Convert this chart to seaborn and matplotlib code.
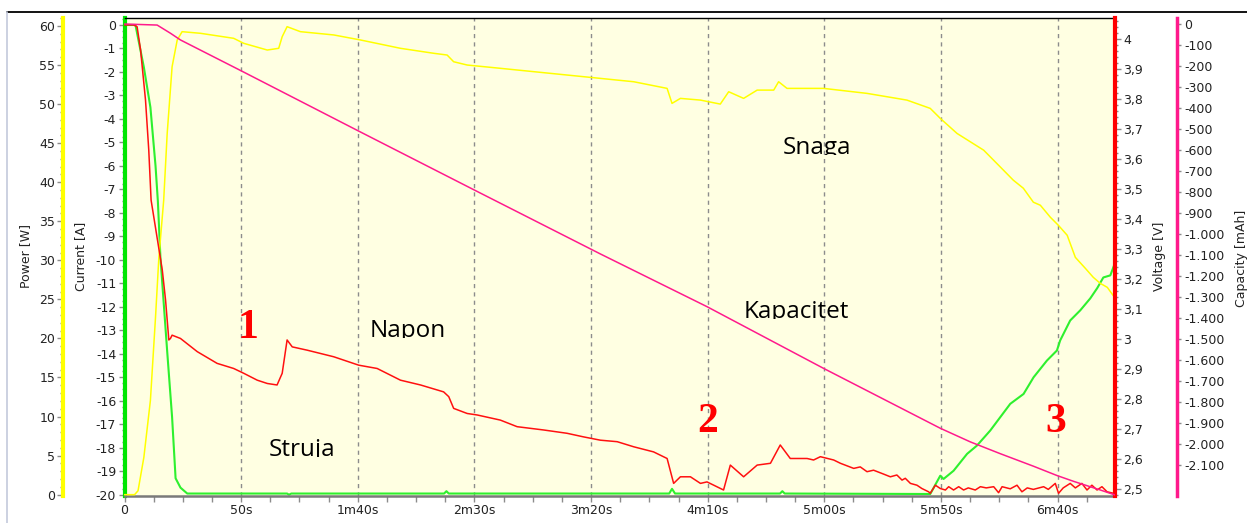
import matplotlib
matplotlib.use("Agg")
import matplotlib.pyplot as plt
import seaborn as sns
from matplotlib.ticker import FixedLocator, MultipleLocator, FuncFormatter
from matplotlib.transforms import Bbox, TransformedBbox
from matplotlib.lines import Line2D

# ---- discharge log (time in seconds) ----
current_t = [0, 4.7, 8.3, 11.1, 13.3, 14.3, 15.4, 18.3, 20.4, 21.9, 24.0, 26.9,
             69.7, 70.5, 71.5, 137, 138, 139, 233.5, 234.7, 236, 281, 282, 283,
             345.4, 349.7, 351.1, 355.4, 361.2, 365.4, 371.1, 375.4, 379.7, 385.4,
             389.7, 395.4, 399.7, 401.1, 405.4, 409.7, 414.0, 417.0, 419.6, 422.6, 424.7]
current_a = [0, 0, -1.8, -3.5, -6.0, -7.5, -9.9, -13.9, -16.7, -19.3, -19.7, -19.95,
             -19.95, -20.0, -19.95, -19.95, -19.85, -19.95, -19.95, -19.75, -19.95, -19.95, -19.85, -19.95,
             -19.97, -19.19, -19.33, -18.98, -18.26, -17.91, -17.27, -16.70, -16.13, -15.71,
             -15.00, -14.29, -13.86, -13.43, -12.58, -12.15, -11.64, -11.2, -10.75, -10.66, -10.1]

voltage_t = [0, 3.9, 5.4, 6.9, 9.0, 10.4, 11.4, 16.2, 17.6, 19.0,
             19.7, 20.4, 24.0, 31.2, 39.7, 46.8, 51.1, 56.9, 61.2, 65.4,
             67.6, 69.7, 71.9, 78.3, 89.7, 100.4, 108.3, 118.3, 126.9, 136.8,
             139.0, 141.1, 146.9, 151.2, 161.1, 168.3, 179.7, 189.7, 196.8, 204.0,
             211.2, 218.3, 226.8, 232.6, 235.4, 238.3, 242.6, 246.9, 249.7, 256.8,
             259.7, 265.4, 271.2, 276.9, 281.1, 285.4, 292.6, 295.4, 298.3, 304.0,
             306.9, 312.6, 315.4, 318.3, 321.1, 325.4, 328.3, 331.1, 333.3, 334.7,
             336.9, 339.7, 341.8, 344.7,
             345.4, 347.6, 349.7, 351.9, 353.3, 355.4, 357.6, 359.7, 361.7, 364.7,
             366.9, 369.4, 372.6, 374.7, 376.2, 379.7, 382.6, 384.7, 387.0, 389.6,
             394.0, 396.0, 399.0, 400.4, 402.4, 405.4, 407.6, 410.4, 412.6, 414.7,
             416.9, 419.0, 421.2, 424.0]
voltage_v = [4.048, 4.048, 4.042, 3.964, 3.798, 3.631, 3.464, 3.231, 3.131, 2.998,
             3.003, 3.014, 3.003, 2.959, 2.920, 2.903, 2.887, 2.864, 2.853, 2.848,
             2.887, 2.998, 2.975, 2.964, 2.942, 2.914, 2.903, 2.864, 2.848, 2.825,
             2.809, 2.770, 2.753, 2.748, 2.731, 2.709, 2.698, 2.687, 2.675, 2.664,
             2.659, 2.642, 2.625, 2.603, 2.520, 2.542, 2.542, 2.520, 2.525, 2.498,
             2.581, 2.542, 2.581, 2.587, 2.648, 2.603, 2.603, 2.598, 2.609, 2.598,
             2.587, 2.570, 2.575, 2.559, 2.564, 2.551, 2.542, 2.548, 2.531, 2.537,
             2.520, 2.514, 2.503, 2.492,
             2.487, 2.514, 2.503, 2.498, 2.509, 2.498, 2.509, 2.498, 2.505, 2.498,
             2.509, 2.505, 2.509, 2.489, 2.509, 2.502, 2.514, 2.492, 2.505, 2.500,
             2.509, 2.500, 2.520, 2.487, 2.505, 2.520, 2.505, 2.520, 2.498, 2.514,
             2.498, 2.509, 2.492, 2.487]

power_t = [0, 4.3, 5.8, 8.3, 11.1, 13.3, 14.7, 16.8, 18.3, 20.4,
           22.6, 24.7, 32.6, 46.8, 51.1, 61.2, 66.1, 67.6, 69.7, 75.4,
           89.7, 101.1, 118.3, 132.6, 138.3, 141.1, 146.9, 161.1, 204.0, 218.3,
           232.6, 234.7, 238.3, 246.9, 255.4, 259.0, 265.4, 271.2, 278.3, 280.4,
           284.0, 299.7, 318.3, 335.4, 345.4, 349.7, 356.9, 368.3, 375.4, 381.0,
           385.3, 389.6, 392.6, 396.9, 400.3, 404.1, 407.6, 411.9, 415.3, 418.3,
           421.3, 424.7]
power_w = [0, 0, 0.5, 4.78, 12.05, 22.73, 30.22, 37.69, 46.24, 54.78,
           58.21, 59.27, 59.06, 58.42, 57.78, 56.92, 57.14, 58.63, 59.91, 59.27,
           58.85, 58.21, 57.14, 56.50, 56.28, 55.42, 55.0, 54.58, 53.29, 52.86,
           52.01, 50.09, 50.73, 50.51, 50.0, 51.58, 50.73, 51.79, 51.79, 52.86,
           52.01, 52.01, 51.37, 50.51, 49.45, 48.17, 46.24, 44.10, 41.96, 40.26,
           39.23, 37.44, 37.05, 35.51, 34.49, 33.21, 30.38, 28.97, 27.82, 27.05,
           26.54, 25.13]

capacity_t = [0, 14.0, 19.7, 24.0, 51.1, 100.4, 150.4, 204.0, 249.7, 299.7,
              349.7, 362.6, 375.4, 389.7, 399.7, 406.9, 418.3, 424.7]
capacity_mah = [0, -5, -44, -76, -229, -510, -793, -1095, -1346, -1640,
                -1925, -1990, -2046, -2106, -2150, -2178, -2219, -2243]

x_ticks = [0, 50, 100, 150, 200, 250, 300, 350, 400]
x_tick_labels = ["0", "50s", "1m40s", "2m30s", "3m20s", "4m10s", "5m00s", "5m50s", "6m40s"]

W, H = 1247, 523
sns.set_theme(style="white")
plt.rcParams["font.family"] = ["DejaVu Sans"]
plt.rcParams["axes.unicode_minus"] = False

fig = plt.figure(figsize=(W / 100, H / 100), dpi=100)
fig.patch.set_facecolor("white")


def fx(px):
    return px / W


def fy(py):
    return 1 - py / H


PT = 0.72  # points per pixel at 100 dpi
L, R, T, B = 124.5, 1115, 18, 496
ax = fig.add_axes([fx(L), fy(B), fx(R) - fx(L), fy(T) - fy(B)])
ax.set_facecolor("#FFFFE2")
ax_p = ax.twinx()
ax_v = ax.twinx()
ax_c = ax.twinx()

GREEN, YELLOW, RED, PINK = "#2EF02E", "#FFFF00", "#FF1010", "#FF1A8C"
sns.lineplot(x=current_t, y=current_a, ax=ax, color=GREEN, linewidth=1.5, estimator=None, sort=False)
sns.lineplot(x=voltage_t, y=voltage_v, ax=ax_v, color=RED, linewidth=1.1, estimator=None, sort=False)
sns.lineplot(x=power_t, y=power_w, ax=ax_p, color=YELLOW, linewidth=1.1, estimator=None, sort=False)
sns.lineplot(x=capacity_t, y=capacity_mah, ax=ax_c, color=PINK, linewidth=1.1, estimator=None, sort=False)

for a in (ax, ax_p, ax_v, ax_c):
    a.set_xlim(0, 424.6)
    a.set_xlabel("")
    a.set_ylabel("")

ax.set_ylim(-20.055, 0.298)
ax_p.set_ylim(-0.17, 61.02)
ax_v.set_ylim(2.478, 4.071)
ax_c.set_ylim(-2247.6, 28.6)

# x axis
ax.xaxis.set_major_locator(FixedLocator(x_ticks))
ax.set_xticklabels(x_tick_labels)
ax.xaxis.set_minor_locator(MultipleLocator(12.5))
ax.grid(axis="x", which="major", color="#8c8c8c", linestyle=(0, (3, 3)), linewidth=1)

tick_kw = dict(direction="out", color="#8c8c8c", labelsize=9, labelcolor="#222222", pad=2)
ax.tick_params(axis="x", which="major", length=4, width=1, bottom=True, **tick_kw)
ax.tick_params(axis="x", which="minor", length=4, width=1, bottom=True, color="#8c8c8c")

# current axis (left)
ax.yaxis.tick_left()
ax.yaxis.set_major_locator(MultipleLocator(1))
ax.yaxis.set_minor_locator(MultipleLocator(0.25))
ax.yaxis.set_major_formatter(FuncFormatter(lambda v, p: f"{int(round(v))}"))
ax.tick_params(axis="y", which="major", length=4, width=1, left=True, **tick_kw)
ax.tick_params(axis="y", which="minor", length=2.5, width=1, left=True, color="#8c8c8c")

# power axis (outer left)
ax_p.yaxis.tick_left()
ax_p.yaxis.set_label_position("left")
ax_p.spines["left"].set_position(("outward", 61 * PT))
ax_p.yaxis.set_major_locator(MultipleLocator(5))
ax_p.yaxis.set_minor_locator(MultipleLocator(1))
ax_p.yaxis.set_major_formatter(FuncFormatter(lambda v, p: f"{int(round(v))}"))
ax_p.tick_params(axis="y", which="major", length=4, width=1, left=True, right=False, **tick_kw)
ax_p.tick_params(axis="y", which="minor", length=2.5, width=1, left=True, right=False, color="#8c8c8c")


def volt_fmt(v, p):
    s = f"{v:.1f}"
    if s.endswith(".0"):
        s = s[:-2]
    return s.replace(".", ",")


ax_v.yaxis.set_major_locator(MultipleLocator(0.1))
ax_v.yaxis.set_minor_locator(MultipleLocator(0.02))
ax_v.yaxis.set_major_formatter(FuncFormatter(volt_fmt))
ax_v.tick_params(axis="y", which="major", length=4, width=1, right=True, **tick_kw)
ax_v.tick_params(axis="y", which="minor", length=2.5, width=1, right=True, color="#8c8c8c")

ax_c.spines["right"].set_position(("outward", 62 * PT))
ax_c.yaxis.set_major_locator(FixedLocator(list(range(0, -2101, -100))))
ax_c.yaxis.set_major_formatter(FuncFormatter(lambda v, p: f"{int(round(v)):,}".replace(",", ".")))
ax_c.tick_params(axis="y", which="major", length=3, width=1, right=True, **tick_kw)

# spines
for a in (ax_p, ax_v, ax_c):
    for s in a.spines.values():
        s.set_visible(False)
ax.spines["right"].set_visible(False)
ax.spines["left"].set_color("#00E600")
ax.spines["left"].set_linewidth(3)
ax.spines["top"].set_color("black")
ax.spines["top"].set_linewidth(1)
ax.spines["bottom"].set_color("#7a7a7a")
ax.spines["bottom"].set_linewidth(1.8)
ax_p.spines["left"].set_visible(True)
ax_p.spines["left"].set_color(YELLOW)
ax_p.spines["left"].set_linewidth(3)
ax_v.spines["right"].set_visible(True)
ax_v.spines["right"].set_color("#FF0000")
ax_v.spines["right"].set_linewidth(3)
ax_c.spines["right"].set_visible(True)
ax_c.spines["right"].set_color(PINK)
ax_c.spines["right"].set_linewidth(2.5)

# axis titles
lab_kw = dict(rotation=90, ha="center", va="center", fontsize=9, color="#222222")
fig.text(fx(26), fy(256), "Power [W]", **lab_kw)
fig.text(fx(81), fy(256), "Current [A]", **lab_kw)
fig.text(fx(1159), fy(256), "Voltage [V]", **lab_kw)
fig.text(fx(1241), fy(258), "Capacity [mAh]", **lab_kw)

# window frame lines
fig.add_artist(Line2D([fx(7), 1], [fy(12), fy(12)], color="black", linewidth=1.3))
fig.add_artist(Line2D([fx(7), fx(7)], [fy(12), 0], color="#c3c9dc", linewidth=1.2))


# curve names (text boxes cut off just below the baseline)
def name_label(x, base, s):
    t = fig.text(fx(x), fy(base), s, ha="center", va="baseline", fontsize=17.5,
                 family="Open Sans", color="black")
    t.set_clip_box(TransformedBbox(Bbox([[0, fy(base + 0.8)], [1, 1]]), fig.transFigure))


name_label(817.5, 154, "Snaga")
name_label(796.7, 318, "Kapacitet")
name_label(407.5, 337, "Napon")
name_label(302.5, 456, "Struja")

num_kw = dict(ha="center", va="baseline", fontsize=30, fontweight="bold",
              family="Liberation Serif", color="#FF0000")
fig.text(fx(248), fy(338), "1", **num_kw)
fig.text(fx(708), fy(432), "2", **num_kw)
fig.text(fx(1056), fy(432), "3", **num_kw)

fig.savefig("out.png", dpi=100, facecolor="white")
